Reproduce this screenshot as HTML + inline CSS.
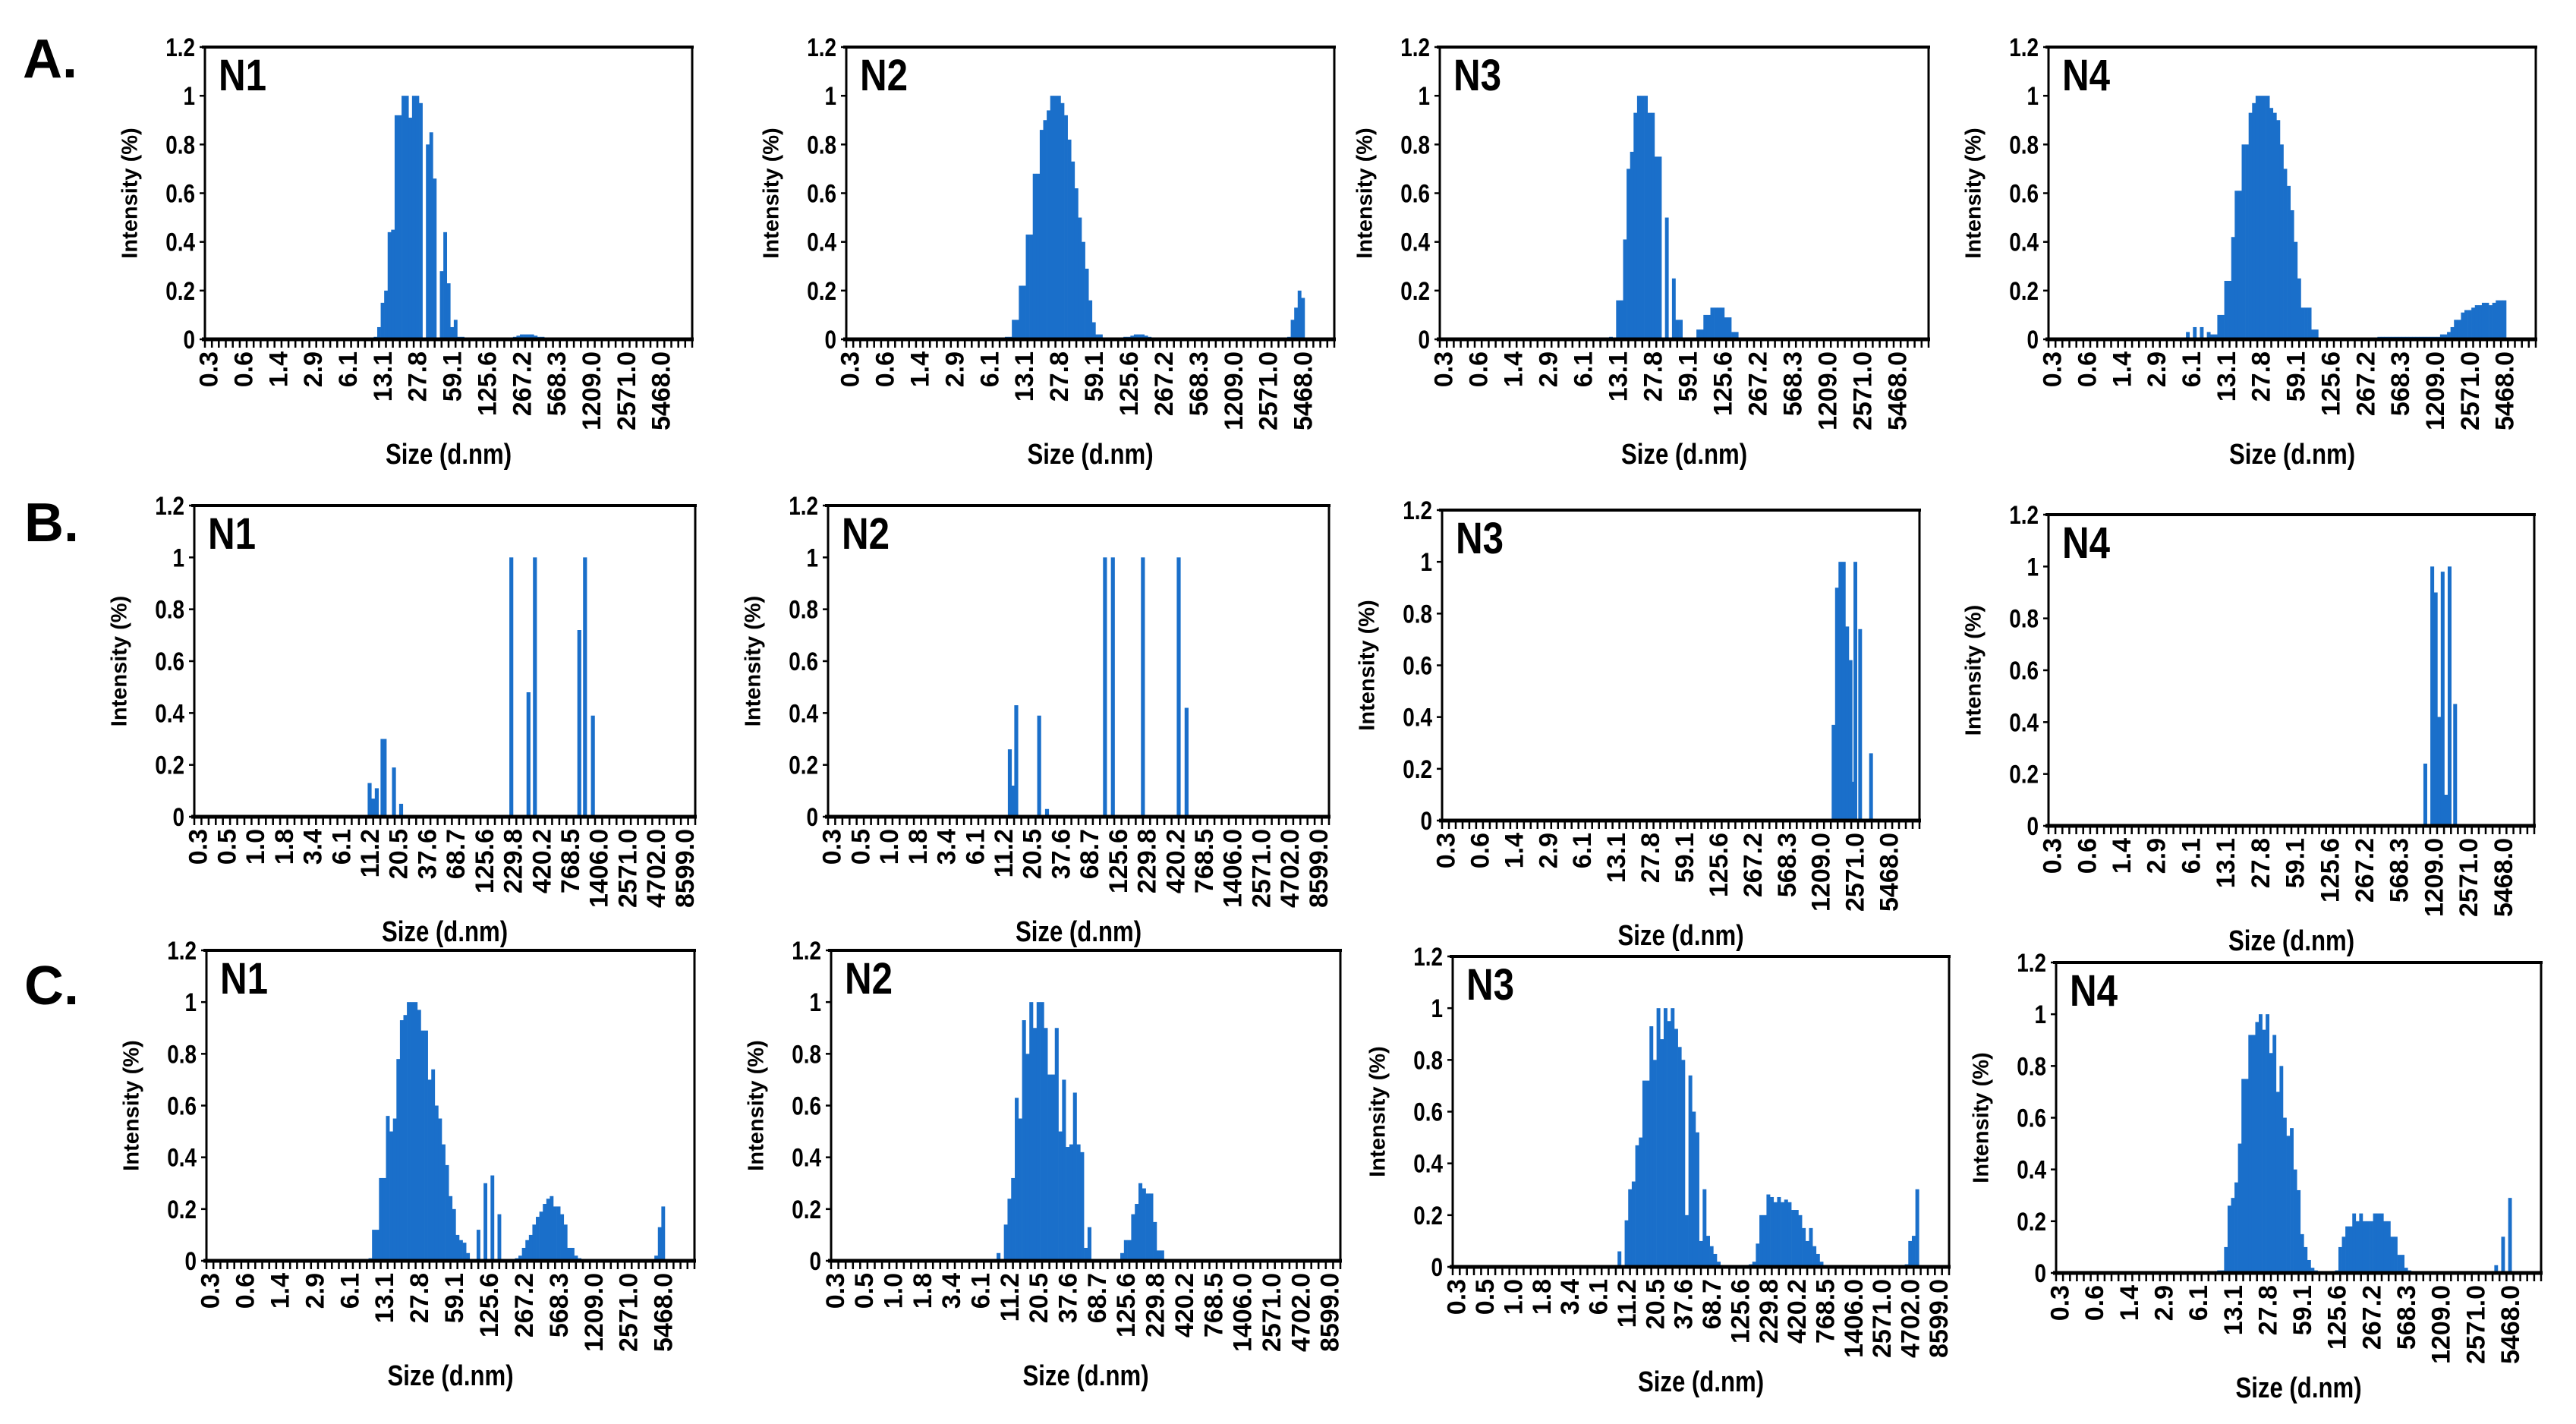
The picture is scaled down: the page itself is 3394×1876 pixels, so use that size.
<!DOCTYPE html>
<html><head><meta charset="utf-8"><style>
html,body{margin:0;padding:0;background:#fff;}
svg{display:block;font-family:"Liberation Sans",Arial,sans-serif;}
</style></head><body>
<svg id="fig" width="3394" height="1876" viewBox="0 0 3394 1876" xmlns="http://www.w3.org/2000/svg">
<rect width="3394" height="1876" fill="#fff"/>
<text x="30" y="102" font-size="72" font-weight="bold">A.</text>
<text x="32" y="713" font-size="72" font-weight="bold">B.</text>
<text x="32" y="1323" font-size="72" font-weight="bold">C.</text>
</svg>
<script>
// ---- tick labels ----
const labA = ['0.3','0.6','1.4','2.9','6.1','13.1','27.8','59.1','125.6','267.2','568.3','1209.0','2571.0','5468.0'];
const labB = ['0.3','0.5','1.0','1.8','3.4','6.1','11.2','20.5','37.6','68.7','125.6','229.8','420.2','768.5','1406.0','2571.0','4702.0','8599.0'];
const yTicks = [0,0.2,0.4,0.6,0.8,1,1.2];
const yTickLabels = ['0','0.2','0.4','0.6','0.8','1','1.2'];

// ---- Row A data (segment start bin, half-bin step values) ----
const a1Start = [24.5, 44];
const a1Vals = [[0.01,0.05,0.15,0.2,0.44,0.45,0.92,0.92,1.0,1.0,0.91,1.0,1.0,0.97,0,0.8,0.85,0.66,0,0.28,0.44,0.23,0.05,0.08,0.01,0.01],
  [0.005,0.01,0.015,0.02,0.02,0.02,0.02,0.015,0.01,0.01,0.005]];
const a2Start = [23, 39.5, 63.5];
const a2Vals = [[0.01,0.01,0.08,0.08,0.22,0.22,0.43,0.43,0.68,0.68,0.86,0.9,0.94,1.0,1.0,1.0,0.97,0.92,0.82,0.73,0.62,0.5,0.4,0.29,0.16,0.07,0.02,0.02],
  [0.005,0.01,0.01,0.015,0.02,0.02,0.02,0.015,0.01,0.005,0.005],
  [0.01,0.08,0.13,0.2,0.17]];
const a3Start = [24.5];
const a3Vals = [[0.01,0,0.16,0.16,0.41,0.7,0.77,0.93,1.0,1.0,1.0,0.93,0.93,0.75,0.75,0,0.5,0,0.25,0.08,0.08,0,0,0,0,0.04,0.04,0.1,0.1,0.13,0.13,0.13,0.13,0.09,0.09,0.03,0.03]];
const a4Start = [20, 47.5];
const a4Vals = [[0.03,0,0.05,0,0.05,0,0.03,0.02,0.02,0.1,0.1,0.24,0.24,0.42,0.61,0.61,0.8,0.8,0.93,0.97,1.0,1.0,1.0,1.0,0.95,0.93,0.9,0.8,0.7,0.63,0.53,0.4,0.25,0.13,0.13,0.13,0.04,0.04],
  [0.01,0.01,0.01,0.01,0.01,0.01,0.01,0.01,0.01,0.01,0.01,0.01,0.01,0.01,0.01,0.01,0.01,0.01,0.02,0.02,0.03,0.05,0.08,0.08,0.11,0.12,0.12,0.13,0.14,0.14,0.15,0.15,0.14,0.15,0.16,0.16,0.16]];

// ---- Row B data (explicit bin positions) ----
const b1Pos = [24.5,25,25.5,26.3,26.6,27.9,28.9,44.3,46.7,47.6,53.8,54.6,55.7];
const b1Vals = [0.13,0.07,0.11,0.3,0.3,0.19,0.05,1,0.48,1,0.72,1,0.39];
const b2Pos = [25.4,25.8,26.3,29.5,30.6,38.7,39.8,44,49,50.1];
const b2Vals = [0.26,0.12,0.43,0.39,0.03,1,1,1,1,0.42];
const b3Pos = [57.4,57.9,58.4,58.9,59.4,59.9,60.1,60.6,61.3,62.9];
const b3Vals = [0.37,0.9,1.0,1.0,0.75,0.62,0.15,1.0,0.74,0.26];
const b4Pos = [54.3,55.3,55.8,56.3,56.8,57.3,57.8,58.6];
const b4Vals = [0.24,1.0,0.9,0.42,0.98,0.12,1.0,0.47];

// ---- Row C data ----
const c1Start = [23.5, 64.5];
const c1Vals = [[0.01,0.12,0.12,0.32,0.32,0.56,0.5,0.55,0.78,0.93,0.95,1.0,1.0,1.0,0.97,0.89,0.89,0.7,0.74,0.6,0.55,0.45,0.37,0.25,0.2,0.1,0.08,0.07,0.03,0,0,0.12,0,0.3,0,0.33,0,0.18,0,0,0,0,0.01,0.02,0.05,0.08,0.1,0.14,0.17,0.19,0.22,0.24,0.25,0.21,0.21,0.18,0.14,0.05,0.05,0.02,0.01],
  [0.02,0.13,0.21]];
const c2Start = [23, 40];
const c2Vals = [[0.03,0,0.14,0.24,0.32,0.63,0.55,0.93,0.8,1.0,0.9,1.0,1.0,0.9,0.72,0.72,0.9,0.5,0.7,0.44,0.45,0.65,0.45,0.42,0.05,0.13],
  [0.03,0.08,0.08,0.18,0.22,0.3,0.28,0.26,0.26,0.15,0.04,0.04]];
const c3Start = [23.5, 42, 64];
const c3Vals = [[0.06,0,0.18,0.3,0.33,0.47,0.5,0.72,0.72,0.93,0.8,1.0,0.88,1.0,0.95,1.0,0.92,0.85,0.8,0.2,0.74,0.6,0.52,0.1,0.3,0.12,0.08,0.05,0.02],
  [0.01,0.02,0.09,0.2,0.2,0.28,0.27,0.25,0.27,0.25,0.26,0.25,0.22,0.22,0.2,0.15,0.1,0.15,0.08,0.05,0.02],
  [0.01,0.1,0.12,0.3]];
const c4Start = [23.5, 40.5, 63.5];
const c4Vals = [[0.01,0.01,0.1,0.26,0.29,0.35,0.5,0.75,0.75,0.92,0.92,0.97,1.0,0.94,1.0,0.85,0.92,0.7,0.8,0.6,0.53,0.56,0.4,0.32,0.15,0.1,0.05,0.02,0.01],
  [0.01,0.1,0.14,0.18,0.18,0.23,0.2,0.23,0.2,0.2,0.2,0.23,0.23,0.23,0.2,0.2,0.14,0.14,0.07,0.07,0.02,0.01],
  [0.03,0,0.14,0,0.29]];

const NBINS = 70;
const BLUE = '#1a6fca';
const panels = [
  {id:'a-n1',name:'N1',box:[270,62,912,447],labs:labA,every:5,starts:a1Start,vals:a1Vals},
  {id:'a-n2',name:'N2',box:[1115,62,1758,447],labs:labA,every:5,starts:a2Start,vals:a2Vals},
  {id:'a-n3',name:'N3',box:[1897,62,2541,447],labs:labA,every:5,starts:a3Start,vals:a3Vals},
  {id:'a-n4',name:'N4',box:[2699,62,3341,447],labs:labA,every:5,starts:a4Start,vals:a4Vals},
  {id:'b-n1',name:'N1',box:[256,666,916,1076],labs:labB,every:4,pos:b1Pos,pvals:b1Vals},
  {id:'b-n2',name:'N2',box:[1091,666,1751,1076],labs:labB,every:4,pos:b2Pos,pvals:b2Vals},
  {id:'b-n3',name:'N3',box:[1900,672,2529,1081],labs:labA,every:5,pos:b3Pos,pvals:b3Vals},
  {id:'b-n4',name:'N4',box:[2699,678,3339,1088],labs:labA,every:5,pos:b4Pos,pvals:b4Vals},
  {id:'c-n1',name:'N1',box:[272,1252,915,1661],labs:labA,every:5,starts:c1Start,vals:c1Vals},
  {id:'c-n2',name:'N2',box:[1095,1252,1766,1661],labs:labB,every:4,starts:c2Start,vals:c2Vals},
  {id:'c-n3',name:'N3',box:[1914,1260,2568,1669],labs:labB,every:4,starts:c3Start,vals:c3Vals},
  {id:'c-n4',name:'N4',box:[2709,1268,3348,1677],labs:labA,every:5,starts:c4Start,vals:c4Vals}
];

const NS = 'http://www.w3.org/2000/svg';
const svg = document.getElementById('fig');
function mk(tag, parent, attrs){
  const e = document.createElementNS(NS, tag);
  for (const k in attrs) e.setAttribute(k, attrs[k]);
  parent.appendChild(e);
  return e;
}

panels.forEach(p => {
  const [L,T,R,B] = p.box;
  const W = R-L, H = B-T, bw = W/NBINS;
  const xOf = b => L + b*bw;
  const yOf = v => B - v/1.2*H;
  const g = mk('g', svg, {});
  
  

  // bars
  const bars = mk('g', g, {fill: BLUE});
  
  
  if (p.pos) {
    p.pos.forEach((b,i) => {
      const v = p.pvals[i];
      const w = bw*0.55;
      const r = mk('rect', bars, {x: xOf(b)-w/2, y: yOf(v), width: w, height: B-yOf(v)});
      
      
    });
  } else {
    p.starts.forEach((s,si) => {
      p.vals[si].forEach((v,i) => {
        if (v <= 0) return;
        const b = s + i*0.5;
        const w = bw*0.5;
        const r = mk('rect', bars, {x: xOf(b)-w/2, y: yOf(v), width: w+0.3, height: B-yOf(v)});
        
        
      });
    });
  }

  // frame
  const fr = mk('rect', g, {x: L, y: T, width: W, height: H, fill: 'none', stroke: '#000', 'stroke-width': 3});
  
  
  const ax = mk('line', g, {x1: L-4, x2: R+2, y1: B, y2: B, stroke: '#000', 'stroke-width': 5});
  
  
  const topl = mk('line', g, {x1: L-4, x2: R+2, y1: T, y2: T, stroke: '#000', 'stroke-width': 4});
  
  

  // x ticks (comb)
  let d = '';
  for (let i = 0; i <= NBINS; i++) { const x = L + i*bw; d += 'M' + x.toFixed(1) + ' ' + B + 'V' + (B+11); }
  const tk = mk('path', g, {d: d, stroke: '#000', 'stroke-width': 2.5});
  
  

  // x tick labels
  p.labs.forEach((t,i) => {
    const x = xOf(i*p.every + 0.5) + 12;
    const y = B + 16;
    const tx = mk('text', g, {x: x, y: y, transform: 'rotate(-90 ' + x + ' ' + y + ')', 'text-anchor': 'end', 'font-size': 34, 'font-weight': 'bold'});
    tx.textContent = t;
    
    
  });

  // y ticks + labels
  yTicks.forEach((v,i) => {
    const y = yOf(v);
    const ln = mk('line', g, {x1: L-7, x2: L, y1: y, y2: y, stroke: '#000', 'stroke-width': 2.5});
    
    
    const tx = mk('text', g, {x: 0, y: 0, transform: 'translate(' + (L-13) + ' ' + (y+12) + ') scale(0.82 1)', 'text-anchor': 'end', 'font-size': 34, 'font-weight': 'bold'});
    tx.textContent = yTickLabels[i];
    
    
  });

  // axis titles
  const yc = (T+B)/2, xt = L - 97;
  const yt = mk('text', g, {x: xt, y: yc, transform: 'rotate(-90 ' + xt + ' ' + yc + ')', 'text-anchor': 'middle', 'dominant-baseline': 'middle', 'font-size': 29, 'font-weight': 'bold'});
  yt.textContent = 'Intensity (%)';
  
  
  const xtt = mk('text', g, {x: 0, y: 0, transform: 'translate(' + ((L+R)/2) + ' ' + (B+164) + ') scale(0.82 1)', 'text-anchor': 'middle', 'font-size': 38, 'font-weight': 'bold'});
  xtt.textContent = 'Size (d.nm)';
  
  

  // panel name
  const nm = mk('text', g, {x: 0, y: 0, transform: 'translate(' + (L+18) + ' ' + (T+57) + ') scale(0.85 1)', 'font-size': 58, 'font-weight': 'bold'});
  nm.textContent = p.name;
  
  
});
</script>
</body></html>
